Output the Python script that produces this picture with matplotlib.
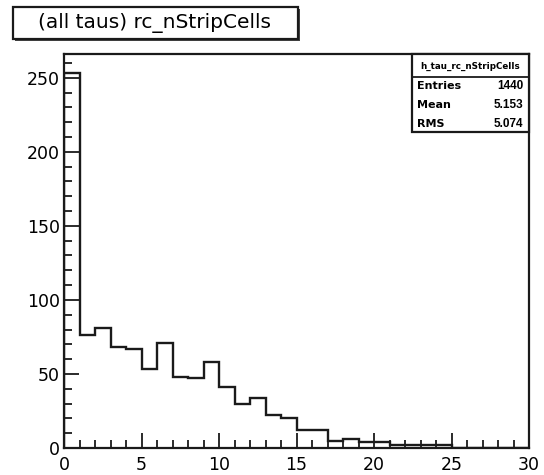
import numpy as np
import matplotlib.pyplot as plt
from matplotlib.patches import Rectangle
from matplotlib.ticker import MultipleLocator

plt.rcParams['font.family'] = ['DejaVu Sans']

# rc_nStripCells for all taus, 30 bins of width 1
bin_edges = np.arange(0, 31, 1)
counts = [253, 76, 81, 68, 67, 53, 71, 48, 47, 58,
          41, 30, 34, 22, 20, 12, 12, 5, 6, 4,
          4, 2, 2, 2, 2, 0, 0, 0, 0, 0]

hist_name = 'h_tau_rc_nStripCells'
title = '(all taus) rc_nStripCells'
stat_labels = ['Entries', 'Mean', 'RMS']
stat_values = ['1440', '5.153', '5.074']

W, H = 544, 475
fig = plt.figure(figsize=(W / 100, H / 100), dpi=100)

def fx(px):
    return px / W

def fy(py):
    return 1 - py / H

ax = fig.add_axes([fx(64), fy(448), fx(529) - fx(64), fy(54) - fy(448)])
ax.stairs(counts, bin_edges, color='#1a1a1a', lw=1.7)
ax.set_xlim(0, 30)
ax.set_ylim(0, 266)

ax.xaxis.set_major_locator(MultipleLocator(5))
ax.xaxis.set_minor_locator(MultipleLocator(1))
ax.yaxis.set_major_locator(MultipleLocator(50))
ax.yaxis.set_minor_locator(MultipleLocator(10))
ax.tick_params(which='both', direction='in', top=False, right=False,
               color='#1a1a1a', width=1.3, labelsize=12.5)
ax.tick_params(which='major', length=11)
ax.tick_params(which='minor', length=6)
ax.tick_params(axis='x', pad=6)
ax.tick_params(axis='y', pad=3)
for s in ax.spines.values():
    s.set_linewidth(1.6)
    s.set_color('#1a1a1a')

# title box with shadow
fig.patches.append(Rectangle((fx(15), fy(41)), fx(285), fy(0) - fy(32),
                             transform=fig.transFigure, facecolor='#444444',
                             edgecolor='none'))
fig.patches.append(Rectangle((fx(13), fy(39)), fx(285), fy(0) - fy(32),
                             transform=fig.transFigure, facecolor='white',
                             edgecolor='#1a1a1a', lw=1.6))
fig.text(fx(155), fy(23), title, ha='center', va='center', fontsize=14.5)

# stats box
fig.patches.append(Rectangle((fx(412), fy(132)), fx(117), fy(0) - fy(78),
                             transform=fig.transFigure, facecolor='white',
                             edgecolor='#1a1a1a', lw=1.6, zorder=5))
fig.add_artist(plt.Line2D([fx(412), fx(529)], [fy(77), fy(77)],
                          transform=fig.transFigure, color='#1a1a1a', lw=1.3,
                          zorder=6))
fig.text(fx(470), fy(66), hist_name, ha='center', va='center', fontsize=6.3,
         weight='bold', zorder=7)
for i, (lab, val) in enumerate(zip(stat_labels, stat_values)):
    y = fy(86 + i * 19)
    fig.text(fx(417), y, lab, ha='left', va='center', fontsize=8,
             weight='bold', zorder=7)
    fig.text(fx(523), y, val, ha='right', va='center', fontsize=8.5,
             family='Liberation Sans', weight='bold', zorder=7)

fig.savefig('out.png', dpi=100)
